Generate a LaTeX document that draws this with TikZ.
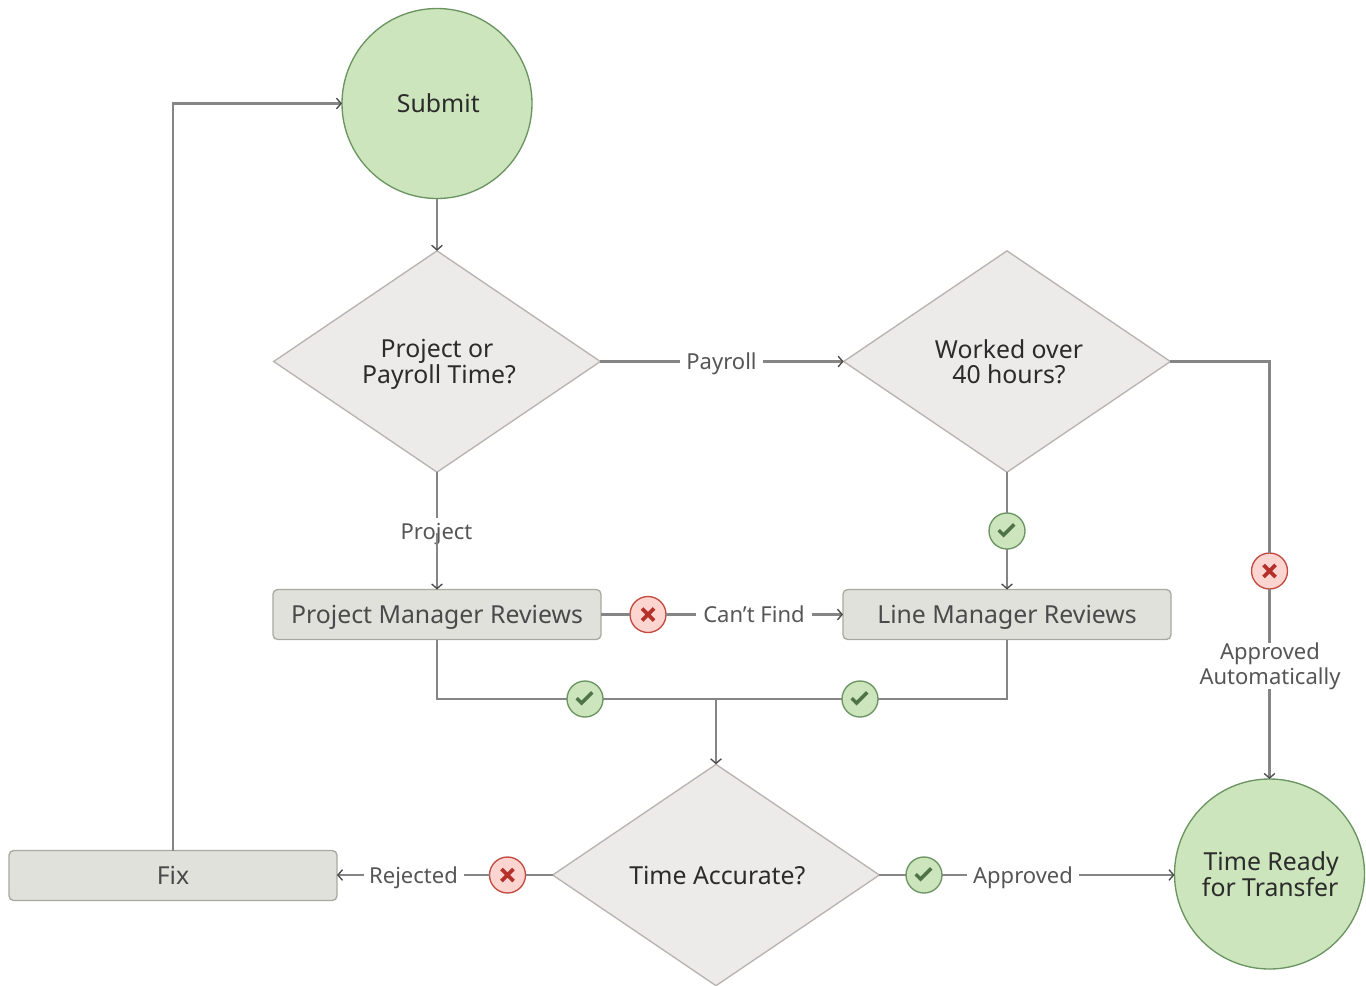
\documentclass[tikz,border=0pt]{standalone}
\usepackage{fontspec}
\setmainfont{Noto Sans}
\usetikzlibrary{shapes.geometric,arrows.meta}
\definecolor{linec}{HTML}{858585}
\definecolor{tipc}{HTML}{4A4A4A}
\definecolor{greenf}{HTML}{CDE5BC}
\definecolor{greend}{HTML}{6A9460}
\definecolor{checkc}{HTML}{4F7246}
\definecolor{redf}{HTML}{FDD5D0}
\definecolor{redd}{HTML}{C4493F}
\definecolor{xc}{HTML}{B5302A}
\definecolor{diaf}{HTML}{EDEBEA}
\definecolor{diad}{HTML}{B8B3AF}
\definecolor{boxf}{HTML}{E0E1DB}
\definecolor{boxd}{HTML}{A9A9A2}
\definecolor{txtd}{HTML}{2B2B2B}
\definecolor{txtm}{HTML}{4A4A4A}
\definecolor{txtl}{HTML}{555555}
\newcommand{\shr}[1]{\hspace*{#1pt}}
\tikzset{
  x=0.75pt,y=-0.75pt,
  conn/.style={draw=linec,line width=1.8pt},
  arr/.style={conn,-{Straight Barb[length=3.5pt,width=8pt,color=tipc,line width=1pt]}},
  circ/.style={circle,draw=greend,fill=greenf,line width=1pt,minimum size=142.5pt,inner sep=0pt,outer sep=0pt,text=txtd,font=\fontsize{18.6}{19}\selectfont,align=center,text depth=0pt},
  dia/.style={diamond,draw=diad,fill=diaf,line width=1pt,shape aspect=1.48,minimum width=245pt,minimum height=166pt,inner sep=0pt,outer sep=0pt,text=txtd,font=\fontsize{18.6}{19}\selectfont,align=center,text depth=0pt},
  rev/.style={rectangle,rounded corners=3.5pt,draw=boxd,fill=boxf,line width=1pt,minimum width=246pt,minimum height=37.5pt,inner sep=0pt,outer sep=0pt,text=txtm,font=\fontsize{18.6}{19}\selectfont,text height=13.5pt,text depth=0pt},
  lab/.style={text=txtl,font=\fontsize{16.5}{18.5}\selectfont,align=center,inner sep=0pt,outer sep=0pt},
  lab1/.style={lab,text height=12pt,text depth=0pt},
  okb/.style={circle,draw=greend,fill=greenf,line width=1pt,minimum size=27pt,inner sep=0pt,outer sep=0pt,
    path picture={\draw[checkc,line width=2.6pt] ([shift={(-6.2pt,0.6pt)}]path picture bounding box.center) -- ++(3.6pt,-3.6pt) -- ++(8pt,8pt);}},
  nob/.style={circle,draw=redd,fill=redf,line width=1pt,minimum size=27pt,inner sep=0pt,outer sep=0pt,
    path picture={\draw[xc,line width=2.8pt] ([shift={(-4.5pt,-4.5pt)}]path picture bounding box.center) -- ++(9pt,9pt) ([shift={(4.5pt,-4.5pt)}]path picture bounding box.center) -- ++(-9pt,9pt);}}
}
\begin{document}
\begin{tikzpicture}
\useasboundingbox (0,0) rectangle (1366,985);
% main nodes
\node[circ] (submit) at (437,103.5) {\shr{2}Submit};
\node[dia] (d1) at (437,361.5) {Project or\\\shr{3}Payroll Time?};
\node[dia] (d2) at (1007,361.5) {\shr{3}Worked over\\\shr{3}40 hours?};
\node[dia] (d3) at (716,875) {\shr{2}Time Accurate?};
\node[rev] (pm) at (437,614.5) {Project Manager Reviews};
\node[rev] (lm) at (1007,614.5) {Line Manager Reviews};
\node[rev] (fix) at (173,875.5) {Fix};
\node[circ] (ready) at (1269.5,874) {\shr{2.5}Time Ready\\\shr{1}for Transfer};
% badges
\node[okb] (ok1) at (1007,531) {};
\node[nob] (no1) at (1269.5,571) {};
\node[nob] (no2) at (648,614.5) {};
\node[okb] (ok2) at (585,699) {};
\node[okb] (ok3) at (860,699) {};
\node[nob] (no3) at (507.5,875) {};
\node[okb] (ok4) at (924,875) {};
% labels
\node[lab1,minimum width=62pt] (payroll) at (721.5,361.5) {Payroll};
\node[lab1] (project) at (436.5,531) {Project};
\node[lab1,minimum width=87pt] (cant) at (754,614.5) {Can’t Find};
\node[lab1,minimum width=75pt] (rejected) at (413.5,875) {Rejected};
\node[lab1,minimum width=84pt] (approved) at (1023,875) {Approved};
\node[lab] (auto) at (1270,666) {Approved\\Automatically};
\coordinate (junction) at (716,699);
% connectors
\draw[arr] (submit.south) -- (d1.north);
\draw[conn] (d1.east) -- (payroll.west);
\draw[arr] (payroll.east) -- (d2.west);
\draw[conn] (d1.south) -- ([yshift=4pt]project.north -| d1.south);
\draw[arr] ([yshift=4.5pt]project.south -| d1.south) -- (pm.north);
\draw[conn] (d2.south) -- (ok1.north);
\draw[arr] (ok1.south) -- (lm.north);
\draw[conn] (d2.east) -| (no1.north);
\draw[conn] (no1.south) -- (auto.north -| no1.south);
\draw[arr] (auto.south -| no1.south) -- (ready.north);
\draw[conn] (pm.east) -- (no2.west);
\draw[conn] (no2.east) -- (cant.west);
\draw[arr] (cant.east) -- (lm.west);
\draw[conn] (pm.south) |- (ok2.west);
\draw[conn] (ok2.east) -- (ok3.west);
\draw[conn] (lm.south) |- (ok3.east);
\draw[arr] (junction) -- (d3.north);
\draw[conn] (d3.west) -- (no3.east);
\draw[conn] (no3.west) -- (rejected.east);
\draw[arr] (rejected.west) -- (rejected.west -| fix.east);
\draw[conn] (d3.east) -- (ok4.west);
\draw[conn] (ok4.east) -- (approved.west);
\draw[arr] (approved.east) -- (approved.east -| ready.west);
\draw[arr] (fix.north) |- (submit.west);
\end{tikzpicture}
\end{document}
